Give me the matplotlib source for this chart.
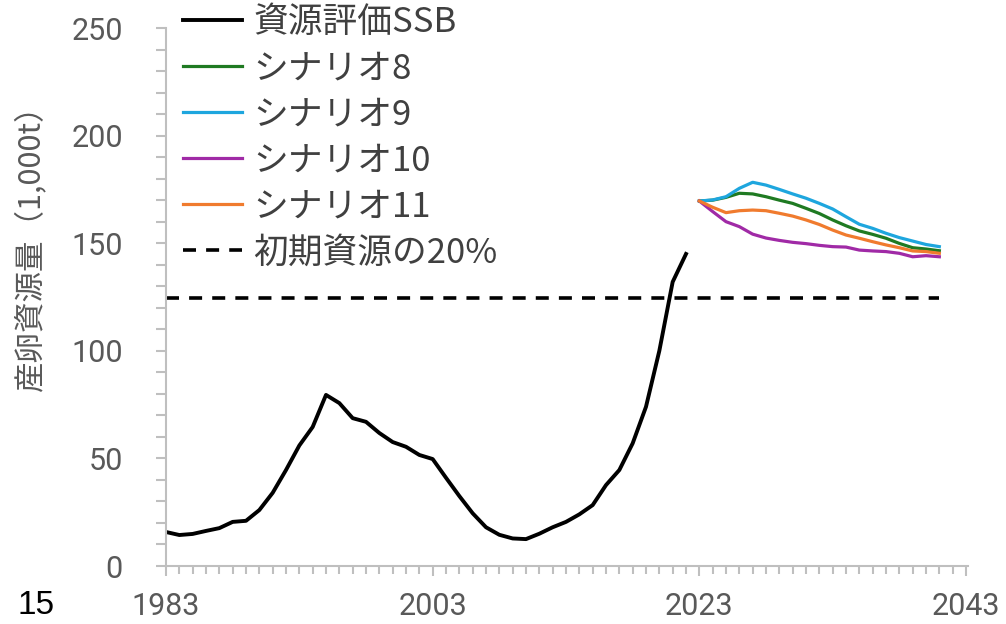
import matplotlib
matplotlib.use("Agg")
import matplotlib.pyplot as plt
from matplotlib.ticker import MultipleLocator, FixedLocator

# ---- data ----
ssb_years = list(range(1983, 2023))
ssb_values = [15.8, 14.4, 14.9, 16.3, 17.6, 20.5, 21.0, 26.0, 34.0, 44.6,
              56.0, 64.6, 79.5, 75.7, 68.7, 67.0, 61.8, 57.6, 55.4, 51.6,
              49.7, 41.0, 32.5, 24.5, 18.0, 14.5, 12.8, 12.5, 15.0, 18.0,
              20.5, 24.0, 28.3, 37.6, 44.6, 57.0, 74.0, 100.0, 132.0, 145.0]

scen_years = list(range(2023, 2042))
scen8 = [169.6, 170.0, 171.3, 173.2, 172.9, 171.6, 170.0, 168.5, 166.2, 163.8,
         160.8, 158.1, 155.7, 154.1, 152.3, 149.9, 147.9, 147.3, 146.5]
scen9 = [169.6, 170.1, 171.6, 175.5, 178.3, 177.0, 175.0, 172.9, 170.9, 168.5,
         165.9, 162.3, 158.8, 156.9, 154.6, 152.6, 151.0, 149.4, 148.4]
scen10 = [169.6, 164.7, 160.0, 157.7, 154.2, 152.4, 151.3, 150.4, 149.8, 149.0,
          148.4, 148.2, 146.8, 146.4, 146.1, 145.3, 143.7, 144.2, 143.7]
scen11 = [169.6, 166.7, 164.2, 165.1, 165.4, 165.1, 163.9, 162.6, 160.8, 158.7,
          156.1, 153.8, 152.3, 150.7, 149.2, 147.9, 146.4, 146.1, 145.3]

limit_years = [1983, 2041]
limit_values = [124.6, 124.6]

labels = ["資源評価SSB", "シナリオ8", "シナリオ9", "シナリオ10", "シナリオ11", "初期資源の20%"]
x_ticks = [1983, 2003, 2023, 2043]
y_ticks = [0, 50, 100, 150, 200, 250]
ylabel = "産卵資源量（1,000t）"
corner_text = "15"

# ---- style ----
JP = ["Noto Sans CJK JP", "DejaVu Sans"]
GREY_TXT = "#595959"
AXIS_C = "#bfbfbf"

fig = plt.figure(figsize=(10.06, 6.24), dpi=100)
W, H = 1006, 624
ax = fig.add_axes([166 / W, 1 - 566 / H, (968 - 166) / W, (566 - 28) / H])

lw = 2.3
ax.plot(ssb_years, ssb_values, color="black", lw=2.8, label=labels[0], solid_joinstyle="round")
ax.plot(scen_years, scen8, color="#1f7a22", lw=lw, label=labels[1])
ax.plot(scen_years, scen9, color="#1ea6de", lw=lw, label=labels[2])
ax.plot(scen_years, scen10, color="#a02aa6", lw=lw, label=labels[3])
ax.plot(scen_years, scen11, color="#f07b2e", lw=lw, label=labels[4])
ax.plot(limit_years, limit_values, color="black", lw=2.6, dashes=(3.6, 2.8), label=labels[5])

ax.set_xlim(1983, 2043.15)
ax.set_ylim(0, 250)

for s in ["top", "right"]:
    ax.spines[s].set_visible(False)
for s in ["left", "bottom"]:
    ax.spines[s].set_color(AXIS_C)
    ax.spines[s].set_linewidth(1.5)

ax.xaxis.set_major_locator(FixedLocator(x_ticks))
ax.xaxis.set_minor_locator(MultipleLocator(1))
ax.yaxis.set_major_locator(FixedLocator(y_ticks))
ax.yaxis.set_minor_locator(MultipleLocator(10))

ax.tick_params(axis="x", which="major", direction="out", length=7, width=1.5,
               color=AXIS_C, labelsize=22, labelcolor=GREY_TXT, pad=12)
ax.tick_params(axis="x", which="minor", direction="out", length=6, width=1.5, color=AXIS_C)
ax.tick_params(axis="y", which="both", direction="out", length=7, width=1.5,
               color=AXIS_C, labelsize=22, labelcolor=GREY_TXT, pad=24)
for t in ax.get_xticklabels() + ax.get_yticklabels():
    t.set_fontfamily(["Roboto", "DejaVu Sans"])

fig.text(30 / W, 1 - 240 / H, ylabel, rotation=90, ha="center", va="center",
         fontsize=22, color=GREY_TXT, family=JP)
fig.text(36 / W, 1 - 605 / H, corner_text, ha="center", va="center",
         fontsize=24, color="black", family=["Liberation Sans", "DejaVu Sans"])

leg = ax.legend(loc="upper left", bbox_to_anchor=(183 / W, 1 - 5 / H),
                bbox_transform=fig.transFigure, frameon=False,
                prop={"family": JP, "size": 25}, handlelength=1.7,
                handletextpad=0.32, labelspacing=0.32, borderpad=0, borderaxespad=0)
for t in leg.get_texts():
    t.set_color("#404040")

fig.savefig("out.png", dpi=100)
